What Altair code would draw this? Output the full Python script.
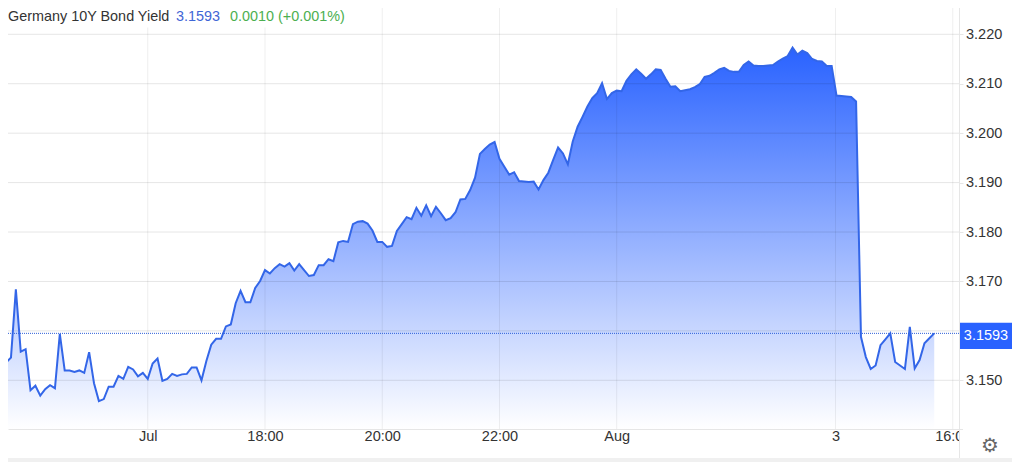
import altair as alt
import pandas as pd

yields = [
    3.1526, 3.1536, 3.1546, 3.1684, 3.1558, 3.1563, 3.1480, 3.1489, 3.1469, 3.1482,
    3.1490, 3.1484, 3.1594, 3.1520, 3.1520, 3.1517, 3.1520, 3.1515, 3.1557, 3.1494,
    3.1458, 3.1462, 3.1487, 3.1487, 3.1509, 3.1503, 3.1527, 3.1522, 3.1508, 3.1515,
    3.1503, 3.1534, 3.1544, 3.1499, 3.1503, 3.1513, 3.1509, 3.1512, 3.1513, 3.1526,
    3.1526, 3.1500, 3.1539, 3.1572, 3.1584, 3.1584, 3.1609, 3.1613, 3.1656, 3.1681,
    3.1658, 3.1658, 3.1687, 3.1701, 3.1723, 3.1716, 3.1727, 3.1735, 3.1730, 3.1737,
    3.1722, 3.1735, 3.1723, 3.1711, 3.1713, 3.1733, 3.1733, 3.1745, 3.1741, 3.1779,
    3.1782, 3.1780, 3.1816, 3.1821, 3.1822, 3.1817, 3.1803, 3.1780, 3.1780, 3.1770,
    3.1772, 3.1802, 3.1816, 3.1830, 3.1826, 3.1849, 3.1833, 3.1854, 3.1832, 3.1851,
    3.1838, 3.1824, 3.1828, 3.1840, 3.1866, 3.1867, 3.1885, 3.1910, 3.1958, 3.1968,
    3.1977, 3.1982, 3.1948, 3.1932, 3.1916, 3.1921, 3.1903, 3.1902, 3.1901, 3.1902,
    3.1886, 3.1905, 3.1920, 3.1946, 3.1971, 3.1959, 3.1937, 3.1983, 3.2013, 3.2033,
    3.2054, 3.2071, 3.2081, 3.2101, 3.2069, 3.2081, 3.2086, 3.2085, 3.2106, 3.2119,
    3.2129, 3.2120, 3.2110, 3.2119, 3.2129, 3.2128, 3.2110, 3.2094, 3.2095, 3.2085,
    3.2087, 3.2089, 3.2093, 3.2099, 3.2114, 3.2116, 3.2122, 3.2129, 3.2132, 3.2126,
    3.2124, 3.2124, 3.2138, 3.2145, 3.2137, 3.2136, 3.2136, 3.2137, 3.2138, 3.2145,
    3.2151, 3.2156, 3.2173, 3.2159, 3.2167, 3.2162, 3.2150, 3.2146, 3.2145, 3.2136,
    3.2136, 3.2076, 3.2075, 3.2074, 3.2073, 3.2064, 3.1588, 3.1547, 3.1523, 3.1530,
    3.1571, 3.1583, 3.1595, 3.1537, 3.1530, 3.1523, 3.1608, 3.1524, 3.1541, 3.1575,
    3.1585, 3.1595,
]
x_tick_values = [30, 54, 78, 102, 126, 170.8, 194.8]
x_tick_labels = ["Jul", "18:00", "20:00", "22:00", "Aug", "3", "16:00"]
y_tick_values = [3.15, 3.16, 3.17, 3.18, 3.19, 3.20, 3.21, 3.22]
y_floor = 3.14015
y_top = 3.22532
price_level = [3.1595]

df = pd.DataFrame({"step": list(range(len(yields))), "value": yields, "floor": [y_floor] * len(yields)})

FONT = "Liberation Sans"
BLUE = "#2962ff"
GRID_H = "#e6e6e6"

x_scale = alt.Scale(domain=[1.392, 196.07], nice=False, zero=False)
y_scale = alt.Scale(domain=[y_floor, y_top], nice=False, zero=False)

label_expr = "{}[indexof({}, datum.value)]".format(x_tick_labels, x_tick_values)

x_axis = alt.Axis(
    values=x_tick_values, labelExpr=label_expr, title=None, grid=False,
    tickSize=0, domainColor=GRID_H, labelFont=FONT, labelFontSize=14.5,
    labelColor="#333333", labelPadding=7, labelOverlap=False, labelFlush=False,
    labelBound=False, labelBaseline="middle", labelAngle=0,
)
y_axis = alt.Axis(
    values=y_tick_values, title=None, orient="right", grid=False,
    labelExpr="abs(datum.value - 3.16) < 0.001 ? '' : format(datum.value, '.3f')",
    tickSize=4, tickColor=GRID_H, domainColor=GRID_H, labelFont=FONT,
    labelFontSize=14.5, labelColor="#333333", labelPadding=2.5, labelOverlap=False,
    labelFlush=False, labelBound=False, labelBaseline="middle",
)

base = alt.Chart(df)
gradient = alt.Gradient(
    gradient="linear", x1=1, x2=1, y1=0, y2=1,
    stops=[
        alt.GradientStop(color=BLUE, offset=0),
        alt.GradientStop(color="#ffffff", offset=1),
    ],
)
area = base.mark_area(fill=gradient).encode(
    x=alt.X("step:Q", scale=x_scale, axis=x_axis),
    y=alt.Y("value:Q", scale=y_scale, axis=y_axis),
    y2=alt.Y2("floor:Q"),
)
line = base.mark_line(color="#3366e8", strokeWidth=2).encode(
    x=alt.X("step:Q", scale=x_scale), y=alt.Y("value:Q", scale=y_scale)
)
grid_v = alt.Chart(pd.DataFrame({"t": x_tick_values})).mark_rule(
    color="#000000", opacity=0.065, strokeWidth=1
).encode(x=alt.X("t:Q", scale=x_scale), y=alt.value(0), y2=alt.value(421))
grid_h = alt.Chart(pd.DataFrame({"t": y_tick_values})).mark_rule(
    color="#000000", opacity=0.1, strokeWidth=1
).encode(y=alt.Y("t:Q", scale=y_scale), x=alt.value(0), x2=alt.value(951))
price_rule = alt.Chart(pd.DataFrame({"p": price_level})).mark_rule(
    color="#2c5fd8", strokeWidth=1, strokeDash=[1, 1]
).encode(y=alt.Y("p:Q", scale=y_scale), x=alt.value(0), x2=alt.value(951))


def deco_rect(x, x2, y, y2, color):
    return alt.Chart(pd.DataFrame({"k": [0]})).mark_rect(color=color).encode(
        x=alt.value(x), x2=alt.value(x2), y=alt.value(y), y2=alt.value(y2)
    )


def deco_rule(x, x2, y, y2, color):
    return alt.Chart(pd.DataFrame({"k": [0]})).mark_rule(color=color, strokeWidth=1).encode(
        x=alt.value(x), x2=alt.value(x2), y=alt.value(y), y2=alt.value(y2)
    )


def label(text, x, y, color, size=14.4, align="left", font=FONT):
    return alt.Chart(pd.DataFrame({"t": [text]})).mark_text(
        font=font, fontSize=size, color=color, align=align, baseline="middle"
    ).encode(text="t:N", x=alt.value(x), y=alt.value(y))


chart = alt.layer(
    area,
    grid_v,
    grid_h,
    line,
    price_rule,
    deco_rect(0, 347, 0, 19.5, "#ffffff"),
    label("Germany 10Y Bond Yield", 0, 8.5, "#333333", 14.4),
    label("3.1593", 168, 8.5, "#3f66d6", 14.4),
    label("0.0010 (+0.001%)", 222, 8.5, "#4caf50", 14.4),
    deco_rect(952, 975, 422.5, 449, "#ffffff"),
    deco_rule(951.5, 951.5, 0, 450, GRID_H),
    deco_rule(951, 955, 421.5, 421.5, GRID_H),
    deco_rect(952, 1004, 314.7, 341, BLUE),
    label("3.1593", 978, 328, "#ffffff", 14.5, align="center"),
    label("\u2699", 982, 438, "#666666", 20, align="center", font="DejaVu Sans"),
    deco_rect(0, 1004, 450, 454, "#f0f0f0"),
).properties(
    width=951,
    height=421,
    padding={"left": 0, "top": 0, "right": 53, "bottom": 33},
    autosize=alt.AutoSizeParams(type="none", contains="content"),
    background="#ffffff",
).configure_view(stroke=None)

chart.save("out.html", embed_options={"renderer": "svg", "actions": False})
